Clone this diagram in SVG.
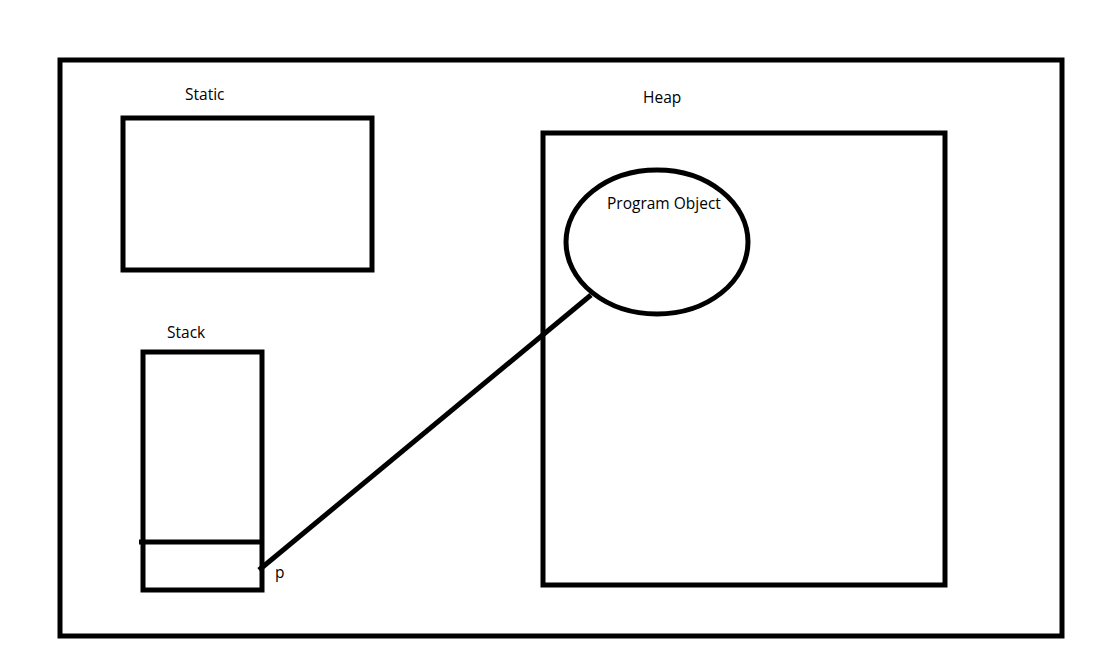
<svg xmlns="http://www.w3.org/2000/svg" width="1106" height="667" viewBox="0 0 1106 667">
<style>
.box{fill:none;stroke:#000;stroke-width:5}
.lbl{font-family:"Open Sans","Noto Sans",sans-serif;font-size:15.5px;fill:#000}
</style>
<rect width="1106" height="667" fill="#fff"/>
<g id="memory"><rect class="box" x="60" y="60" width="1002" height="576"/></g>
<g id="static"><rect class="box" x="123" y="118" width="249" height="152"/><text class="lbl" x="185" y="100">Static</text></g>
<g id="heap"><rect class="box" x="543" y="133" width="402" height="452"/><text class="lbl" x="643" y="103">Heap</text></g>
<g id="stack"><rect class="box" x="143" y="352" width="119" height="238"/><line class="box" x1="139" y1="542" x2="262" y2="542"/><text class="lbl" x="167" y="338">Stack</text></g>
<g id="program-object"><ellipse class="box" cx="657" cy="242" rx="91" ry="72"/><text class="lbl" x="607" y="209">Program Object</text></g>
<g id="p"><text class="lbl" x="275" y="578">p</text></g>
<g id="connectors"><line class="box" x1="259" y1="570" x2="591" y2="295"/></g>
</svg>
